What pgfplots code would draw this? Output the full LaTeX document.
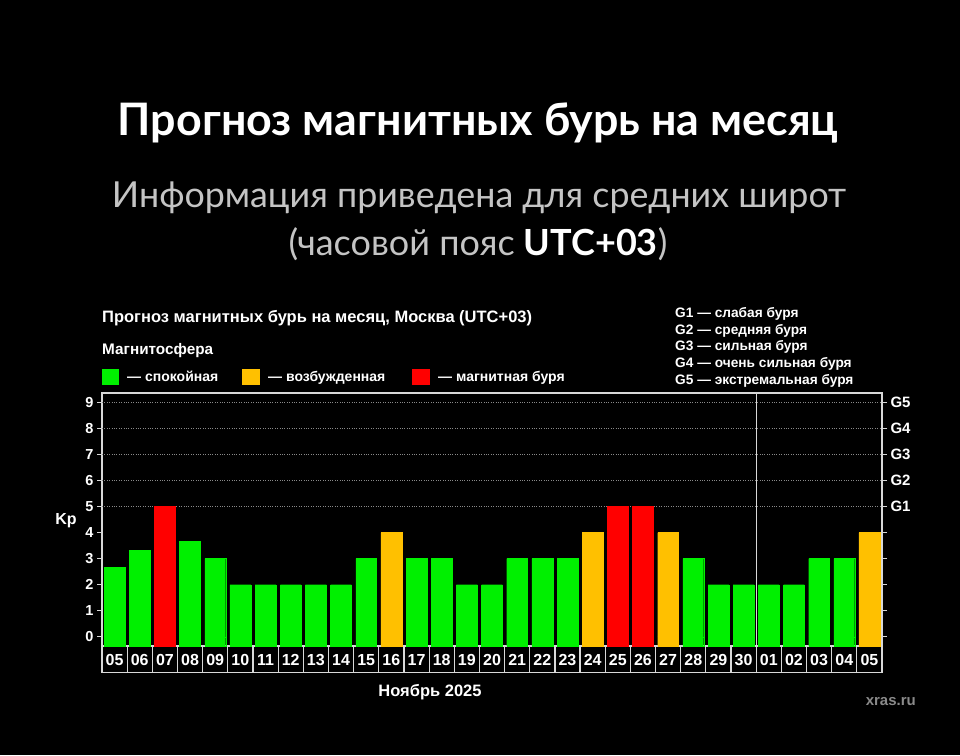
\documentclass[border=0pt]{standalone}
\usepackage{fontspec}
\setmainfont{Liberation Sans}
\newfontfamily\titlefont{Lato}
\usepackage{pgfplots}
\pgfplotsset{compat=1.18}
\usepackage{pgfplotstable}

\definecolor{kpgreen}{HTML}{00F000}
\definecolor{kporange}{HTML}{FFC000}
\definecolor{kpred}{HTML}{FF0000}
\definecolor{axisgray}{HTML}{D8D8D8}
\definecolor{subgray}{HTML}{C4C4C4}
\definecolor{gridgray}{HTML}{8A8A8A}

\pgfplotstableread{
x y
0 2.67
1 3.33
3 3.67
4 3
5 2
6 2
7 2
8 2
9 2
10 3
12 3
13 3
14 2
15 2
16 3
17 3
18 3
23 3
24 2
25 2
26 2
27 2
28 3
29 3
}\greendata

\pgfplotstableread{
x y
11 4
19 4
22 4
30 4
}\orangedata

\pgfplotstableread{
x y
2 5
20 5
21 5
}\reddata

\begin{document}
\begin{tikzpicture}[x=1pt,y=1pt]
\fill[black] (0,0) rectangle (960,755);

% titles
\node[anchor=base, text=white, inner sep=0pt] at (478,619)
  {\resizebox{720pt}{!}{\titlefont\bfseries Прогноз магнитных бурь на месяц}};
\node[anchor=base, text=subgray, inner sep=0pt] at (479,547)
  {\resizebox{734pt}{!}{\titlefont Информация приведена для средних широт}};
\node[anchor=base, text=subgray, inner sep=0pt, font=\titlefont\fontsize{36}{40}\selectfont] at (478,499)
  {(часовой пояс \textcolor{white}{\bfseries UTC+03})};

% chart header
\node[anchor=base west, text=white, inner sep=0pt, font=\bfseries\fontsize{16.5}{19}\selectfont] at (102,432)
  {Прогноз магнитных бурь на месяц, Москва (UTC+03)};
\node[anchor=base west, text=white, inner sep=0pt, font=\bfseries\fontsize{15.3}{18}\selectfont] at (102,400)
  {Магнитосфера};
\fill[kpgreen] (102,370) rectangle (119,386);
\node[anchor=base west, text=white, inner sep=0pt, font=\bfseries\fontsize{14}{17}\selectfont] at (127,373)
  {— спокойная};
\fill[kporange] (242,370) rectangle (260,386);
\node[anchor=base west, text=white, inner sep=0pt, font=\bfseries\fontsize{14}{17}\selectfont] at (268,373)
  {— возбужденная};
\fill[kpred] (412,370) rectangle (430,386);
\node[anchor=base west, text=white, inner sep=0pt, font=\bfseries\fontsize{14}{17}\selectfont] at (438,373)
  {— магнитная буря};

% G scale legend
\begin{scope}[every node/.style={anchor=base west, text=white, inner sep=0pt, font=\bfseries\fontsize{13.7}{16}\selectfont}]
\node at (675,437.3) {G1 — слабая буря};
\node at (675,420.7) {G2 — средняя буря};
\node at (675,404.0) {G3 — сильная буря};
\node at (675,387.3) {G4 — очень сильная буря};
\node at (675,370.7) {G5 — экстремальная буря};
\end{scope}

\node[text=white, font=\bfseries\fontsize{16}{18}\selectfont] at (66,234) {Kp};
\node[anchor=base, text=white, inner sep=0pt, font=\bfseries\fontsize{16.5}{19}\selectfont] at (430,59) {Ноябрь 2025};
\node[anchor=base east, text=gridgray, inner sep=0pt, font=\bfseries\fontsize{15}{17}\selectfont] at (916,50) {xras.ru};

\begin{axis}[
  at={(102pt,109pt)}, anchor=south west,
  scale only axis, width=780pt, height=253pt,
  xmin=-0.5, xmax=30.5, ymin=-0.35, ymax=9.35,
  axis line style={axisgray, line width=1.2pt},
  xtick={0,...,30},
  xticklabels={05,06,07,08,09,10,11,12,13,14,15,16,17,18,19,20,21,22,23,24,25,26,27,28,29,30,01,02,03,04,05},
  xtick style={draw=none},
  xticklabel style={anchor=north, draw=axisgray, fill=black, text=white,
     font=\bfseries\fontsize{16}{18}\selectfont, minimum width=25.16pt,
     minimum height=26pt, inner sep=0pt, line width=1.2pt, yshift=5pt},
  ytick={0,...,9}, ytick pos=left,
  tick align=outside, major tick length=5pt,
  ytick style={axisgray, line width=1pt},
  yticklabel style={text=white, font=\bfseries\fontsize{14.5}{16}\selectfont},
  /pgf/number format/assume math mode=true,
  extra y ticks={5,6,7,8,9}, extra y tick labels={},
  extra y tick style={grid=major, major tick length=0pt},
  major grid style={gridgray, dotted, line width=0.7pt},
  clip=false,
]
\addplot[ybar, bar width=0.83, bar shift=0pt, fill=kpgreen, draw=kpgreen, line width=0.3pt] table[x=x, y=y] {\greendata};
\addplot[ybar, bar width=0.83, bar shift=0pt, fill=kpgreen, draw=kpgreen, line width=0.3pt] table[x=x, y expr=-0.35] {\greendata};
\addplot[ybar, bar width=0.83, bar shift=0pt, fill=kporange, draw=kporange, line width=0.3pt] table[x=x, y=y] {\orangedata};
\addplot[ybar, bar width=0.83, bar shift=0pt, fill=kporange, draw=kporange, line width=0.3pt] table[x=x, y expr=-0.35] {\orangedata};
\addplot[ybar, bar width=0.83, bar shift=0pt, fill=kpred, draw=kpred, line width=0.3pt] table[x=x, y=y] {\reddata};
\addplot[ybar, bar width=0.83, bar shift=0pt, fill=kpred, draw=kpred, line width=0.3pt] table[x=x, y expr=-0.35] {\reddata};
\draw[axisgray, line width=1.2pt] (axis cs:25.5,-0.35) -- (axis cs:25.5,9.35);
\end{axis}

\begin{axis}[
  at={(102pt,109pt)}, anchor=south west,
  scale only axis, width=780pt, height=253pt,
  xmin=-0.5, xmax=30.5, ymin=-0.35, ymax=9.35,
  axis x line=none, axis y line*=right,
  axis line style={axisgray, line width=1.2pt},
  ytick={0,...,9},
  yticklabels={,,,,,\textbf{G1},\textbf{G2},\textbf{G3},\textbf{G4},\textbf{G5}},
  tick align=outside, major tick length=5pt,
  ytick style={axisgray, line width=1pt},
  yticklabel style={text=white, font=\bfseries\fontsize{15}{17}\selectfont},
]
\addplot[draw=none] coordinates {(0,0)};
\end{axis}
\end{tikzpicture}
\end{document}
